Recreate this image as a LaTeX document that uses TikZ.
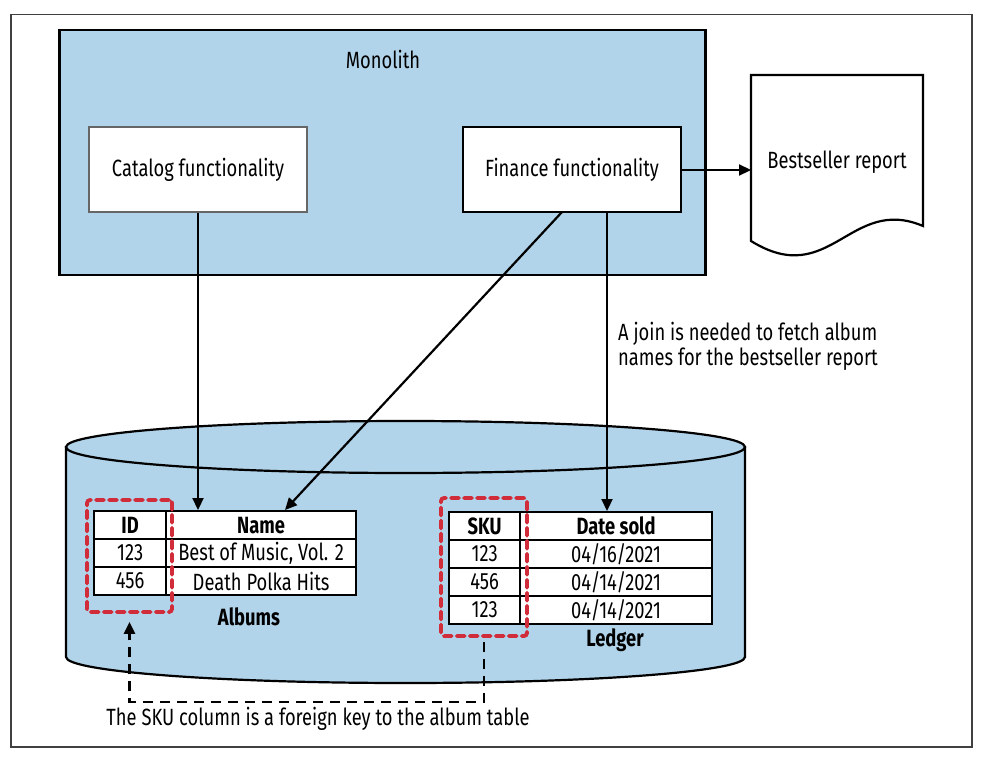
\documentclass[tikz,border=0pt]{standalone}
\usepackage{fontspec}
\setmainfont{Fira Sans}[FakeStretch=0.78]
\usetikzlibrary{arrows.meta}
\definecolor{mblue}{HTML}{B2D4EA}
\definecolor{mred}{HTML}{D02C3A}
\begin{document}
\begin{tikzpicture}[x=1pt,y=-1pt,
  every node/.style={font=\fontsize{23.5}{25}\selectfont, inner sep=0pt},
  fbox/.style={draw, line width=2.2pt, fill=white, minimum width=218pt, minimum height=85pt},
  conn/.style={line width=2.2pt, -{Triangle[length=12pt,width=11pt]}},
  cell/.style={draw, line width=2.2pt, fill=white, anchor=north west, font=\fontsize{23.5}{25}\selectfont},
  hcell/.style={cell, font=\fontsize{23.5}{25}\selectfont\bfseries},
  fkbox/.style={draw=mred, line width=3.8pt, dash pattern=on 8pt off 5pt, rounded corners=3pt, line cap=round},
  fkline/.style={line width=2.4pt, dash pattern=on 10pt off 7pt},
]
\useasboundingbox (0,0) rectangle (982,760);
\fill[white] (0,0) rectangle (982,760);
\draw[line width=1.2pt, draw=black!75] (11,14.5) rectangle (972,747);

% Monolith
\node[draw, line width=2.6pt, fill=mblue, minimum width=646pt, minimum height=245pt] (mono) at (382.5,152.5) {};
\node (mlabel) at (383,59) {Monolith};
\node[fbox, draw=black!60] (cat) at (198,169.5) {Catalog functionality};
\node[fbox] (fin) at (572,169.5) {Finance functionality};

% Bestseller report document
\draw[line width=2.2pt, fill=white] (751,75) -- (923,75) -- (923,226) .. controls (850,195) and (830,290) .. (751,241) -- cycle;
\node (doc) at (837,162) {Bestseller report};
\coordinate (docin) at (751,170);
\draw[conn] (fin.east |- docin) -- (docin);

% Join label
\node[anchor=west, align=left] (join) at (618,346.5) {A join is needed to fetch album\\names for the bestseller report};

% Cylinder
\draw[line width=2.2pt, fill=mblue] (66,447) -- (66,657) arc[start angle=180, end angle=0, x radius=339.5, y radius=26] -- (745,447) -- cycle;
\draw[line width=2.2pt, fill=mblue] (405.5,447) ellipse[x radius=339.5, y radius=26];

% Albums table
\node[hcell, minimum width=72pt, minimum height=28pt] (a11) at (93,510) {ID};
\node[hcell, minimum width=190pt, minimum height=28pt] (a12) at (165,510) {Name};
\node[cell, minimum width=72pt, minimum height=28pt] (a21) at (93,538) {123};
\node[cell, minimum width=190pt, minimum height=28pt] (a22) at (165,538) {Best of Music, Vol. 2};
\node[cell, minimum width=72pt, minimum height=28pt] (a31) at (93,566) {456};
\node[cell, minimum width=190pt, minimum height=28pt] (a32) at (165,566) {Death Polka Hits};
\node[font=\fontsize{23.5}{25}\selectfont\bfseries] (albums) at (249,617) {Albums};

% Ledger table
\node[hcell, minimum width=71pt, minimum height=28pt] (l11) at (448,511) {SKU};
\node[hcell, minimum width=192pt, minimum height=28pt] (l12) at (519,511) {Date sold};
\node[cell, minimum width=71pt, minimum height=28pt] (l21) at (448,539) {123};
\node[cell, minimum width=192pt, minimum height=28pt] (l22) at (519,539) {04/16/2021};
\node[cell, minimum width=71pt, minimum height=28pt] (l31) at (448,567) {456};
\node[cell, minimum width=192pt, minimum height=28pt] (l32) at (519,567) {04/14/2021};
\node[cell, minimum width=71pt, minimum height=28pt] (l41) at (448,595) {123};
\node[cell, minimum width=192pt, minimum height=28pt] (l42) at (519,595) {04/14/2021};
\node[font=\fontsize{23.5}{25}\selectfont\bfseries] (ledger) at (615,640) {Ledger};

% Foreign key boxes
\node[fkbox, minimum width=85pt, minimum height=112pt] (fk1) at (129.5,556) {};
\node[fkbox, minimum width=86pt, minimum height=138pt] (fk2) at (484,567) {};

% Connectors
\draw[conn] (cat.south) -- (cat.south |- a12.north);
\coordinate (finA) at (562,212);
\coordinate (finB) at (607,212);
\coordinate (nameTip) at (285,510);
\draw[conn] (finA) -- (nameTip);
\draw[conn] (finB) -- (finB |- l12.north);

\draw[fkline, shorten <=4pt, shorten >=8pt, -{Triangle[length=12pt,width=11pt]}] (fk2.south) -- ++(0,64) -| (fk1.south);

\node (fknote) at (318,719) {The SKU column is a foreign key to the album table};
\end{tikzpicture}
\end{document}
